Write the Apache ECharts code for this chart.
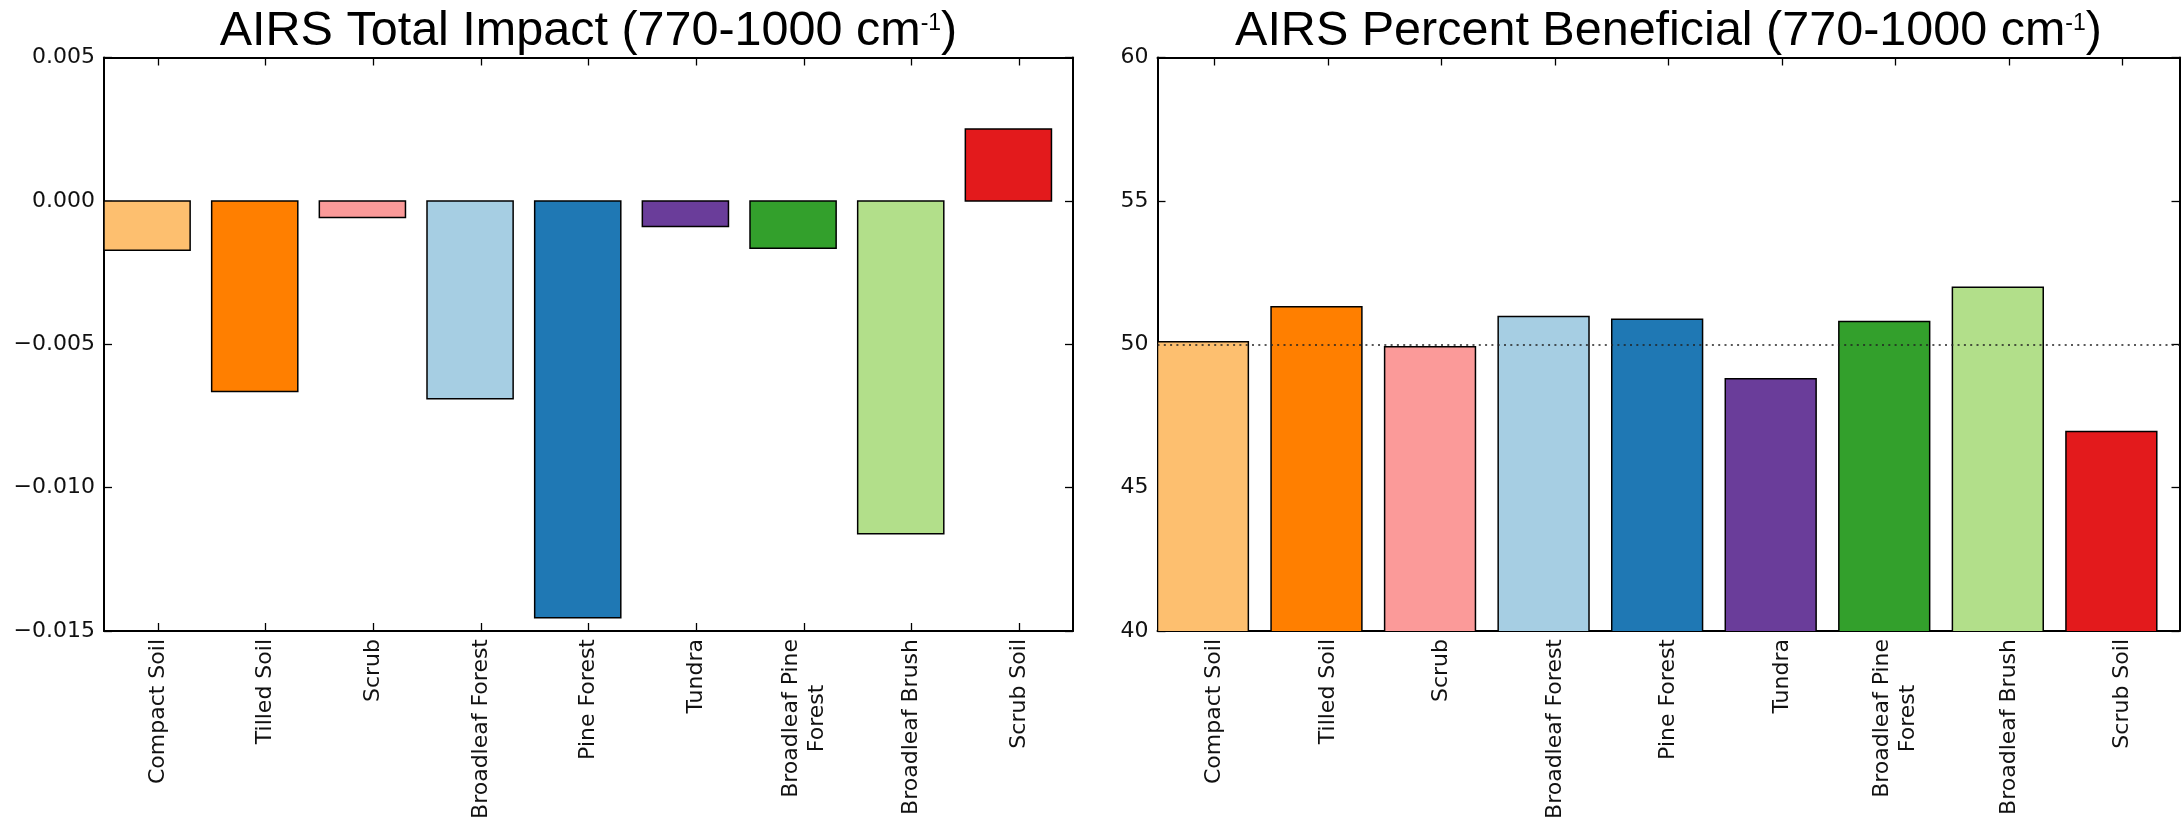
<!DOCTYPE html>
<html>
<head>
<meta charset="utf-8">
<title>AIRS surface-type impact</title>
<script src="https://cdn.jsdelivr.net/npm/echarts@6/dist/echarts.min.js"></script>
<style>
  html, body { margin: 0; padding: 0; background: #fff; }
  #chart { width: 2183px; height: 828px; }
</style>
</head>
<body>
<div id="chart"></div>
<script>
// Surface types and their bar colours
const categories = ['Compact Soil', 'Tilled Soil', 'Scrub', 'Broadleaf Forest', 'Pine Forest',
  'Tundra', 'Broadleaf Pine\nForest', 'Broadleaf Brush', 'Scrub Soil'];
const barColors = ['#fdbf6f', '#ff7f00', '#fb9a99', '#a6cee3', '#1f78b4',
  '#6a3d9a', '#33a02c', '#b2df8a', '#e31a1c'];

// Total observation impact per surface type
const totalImpact = [-0.00172, -0.00665, -0.00058, -0.00690, -0.01454,
  -0.00089, -0.00165, -0.01161, 0.00251];
// Percentage of beneficial observations per surface type
const percentBeneficial = [50.09, 51.31, 49.91, 50.97, 50.87, 48.80, 50.79, 51.99, 46.96];

// Axis ranges
const impactAxis = { min: -0.015, max: 0.005, interval: 0.005 };
const percentAxis = { min: 40, max: 60, interval: 5 };
const neutralPercent = 50;

const tickFont = 'DejaVu Sans';
const titleFont = 'Liberation Sans';
const ink = '#111';

// Bars occupy the left 80% of each category band (edge aligned), ticks sit at band centres
function barItem(params, api) {
  const i = api.value(0);
  const v = api.value(1);
  const band = api.size([1, 0])[0];
  const tip = api.coord([i, v]);
  const base = api.coord([i, 0]);
  const x = tip[0] - band * 0.5;
  return {
    type: 'rect',
    shape: {
      x: x,
      y: Math.min(tip[1], base[1]),
      width: band * 0.8,
      height: Math.abs(tip[1] - base[1])
    },
    style: { fill: barColors[i], stroke: '#000', lineWidth: 1.5 }
  };
}

const spine = { show: true, onZero: false, lineStyle: { color: '#000', width: 2 } };
const innerTick = { show: true, inside: true, length: 8, lineStyle: { color: '#000', width: 1.3 } };

function categoryAxes(gridIndex) {
  return [
    {
      type: 'category', gridIndex, position: 'bottom', data: categories,
      axisLine: spine,
      axisTick: Object.assign({ alignWithLabel: true, interval: 0 }, innerTick),
      axisLabel: {
        interval: 0, rotate: 90, margin: 8,
        formatter: (s) => s.split('\n').map(p => '{c|' + p + '}').join('\n'),
        rich: { c: { fontFamily: tickFont, fontSize: 22, lineHeight: 26, align: 'center', color: ink } }
      },
      splitLine: { show: false }
    },
    {
      type: 'category', gridIndex, position: 'top', data: categories,
      axisLine: spine,
      axisTick: Object.assign({ alignWithLabel: true, interval: 0 }, innerTick),
      axisLabel: { show: false },
      splitLine: { show: false }
    }
  ];
}

function valueAxes(gridIndex, range, fmt) {
  return [
    {
      type: 'value', gridIndex, position: 'left',
      min: range.min, max: range.max, interval: range.interval,
      axisLine: spine, axisTick: innerTick,
      axisLabel: { margin: 9, fontFamily: tickFont, fontSize: 22, color: ink, formatter: fmt },
      splitLine: { show: false }
    },
    {
      type: 'value', gridIndex, position: 'right',
      min: range.min, max: range.max, interval: range.interval,
      axisLine: spine, axisTick: innerTick,
      axisLabel: { show: false },
      splitLine: { show: false }
    }
  ];
}

function titleText(name) {
  return '{m|AIRS ' + name + ' (770-1000 cm}{s|-1}{m|)}';
}
const titleRich = {
  m: { fontFamily: titleFont, fontSize: 48.5, fontWeight: 'normal', lineHeight: 57, color: '#000' },
  s: { fontFamily: titleFont, fontSize: 23, fontWeight: 'normal', lineHeight: 23, verticalAlign: 'top',
       padding: [9, 0, 0, 0], color: '#000' }
};

const option = {
  backgroundColor: '#fff',
  animation: false,
  title: [
    { text: titleText('Total Impact'), left: 588.5, top: 3, textAlign: 'center', padding: 0,
      textStyle: { fontWeight: 'normal', rich: titleRich } },
    { text: titleText('Percent Beneficial'), left: 1668.5, top: 3, textAlign: 'center', padding: 0,
      textStyle: { fontWeight: 'normal', rich: titleRich } }
  ],
  grid: [
    { left: 104, top: 57.5, width: 969, height: 573.5 },
    { left: 1157.5, top: 57.5, width: 1022, height: 573.5 }
  ],
  xAxis: [...categoryAxes(0), ...categoryAxes(1)],
  yAxis: [
    ...valueAxes(0, impactAxis, (v) => v.toFixed(3).replace('-', '\u2212')),
    ...valueAxes(1, percentAxis, (v) => String(Math.round(v)))
  ],
  series: [
    {
      type: 'custom', name: 'Total Impact', xAxisIndex: 0, yAxisIndex: 0, clip: true,
      renderItem: barItem, encode: { x: 0, y: 1 },
      data: totalImpact.map((v, i) => [i, v])
    },
    {
      type: 'custom', name: 'Percent Beneficial', xAxisIndex: 2, yAxisIndex: 2, clip: true,
      renderItem: barItem, encode: { x: 0, y: 1 },
      data: percentBeneficial.map((v, i) => [i, v])
    },
    {
      // dotted 50% reference line drawn over the bars
      type: 'line', name: 'neutral', xAxisIndex: 2, yAxisIndex: 2, z: 5, data: [],
      markLine: {
        silent: true, symbol: 'none', label: { show: false },
        lineStyle: { color: '#222', width: 1.5, type: [2, 4.3] },
        data: [{ yAxis: neutralPercent }]
      }
    }
  ]
};

const chart = echarts.init(document.getElementById('chart'), null, { renderer: 'canvas' });
chart.setOption(option);
</script>
</body>
</html>
